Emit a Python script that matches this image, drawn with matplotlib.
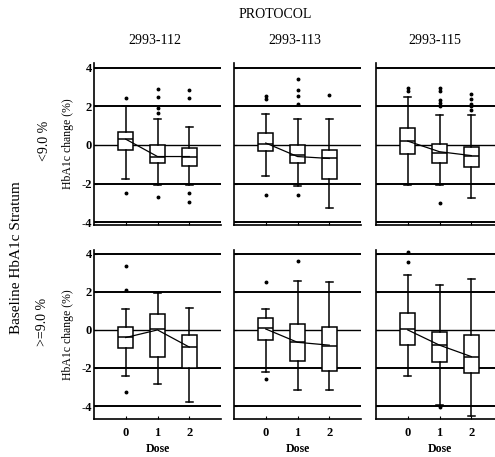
import matplotlib
matplotlib.use("Agg")
import matplotlib.pyplot as plt

protocols = ["2993-112", "2993-113", "2993-115"]
strata = ["<9.0 %", ">=9.0 %"]
doses = [0, 1, 2]

# per panel (row, col): per dose values
# whisker low, q1, median, q3, whisker high
whislo = [
    [[-1.76, -2.07, -2.07], [-1.6, -2.13, -3.28], [-2.07, -2.05, -2.76]],
    [[-2.42, -2.82, -3.79], [-2.19, -3.13, -3.13], [-2.4, -3.93, -4.52]],
]
q1 = [
    [[-0.26, -0.95, -1.07], [-0.3, -0.93, -1.76], [-0.45, -0.95, -1.12]],
    [[-0.93, -1.42, -1.98], [-0.54, -1.65, -2.17], [-0.78, -1.7, -2.26]],
]
med = [
    [[0.3, -0.6, -0.6], [0.07, -0.53, -0.7], [0.22, -0.4, -0.55]],
    [[-0.37, 0.03, -0.9], [0.09, -0.66, -0.83], [0.03, -0.8, -1.41]],
]
q3 = [
    [[0.69, 0.0, -0.14], [0.6, 0.0, -0.27], [0.86, 0.04, -0.1]],
    [[0.16, 0.86, -0.28], [0.61, 0.3, 0.16], [0.87, -0.09, -0.28]],
]
whishi = [
    [[2.03, 1.33, 0.95], [1.59, 1.33, 1.33], [2.5, 1.55, 1.55]],
    [[1.09, 1.95, 1.16], [1.11, 2.56, 2.5], [2.9, 2.38, 2.7]],
]
means = [
    [[0.3, -0.6, -0.6], [0.1, -0.6, -0.7], [0.2, -0.35, -0.55]],
    [[-0.4, 0.0, -0.9], [0.05, -0.65, -0.8], [0.0, -0.8, -1.4]],
]
outliers = [
    [
        [[2.45, -2.47], [2.88, 2.5, 1.9, 1.64, -2.68], [2.85, 2.45, -2.5, -2.95]],
        [[2.55, 2.4, -2.6], [3.42, 2.85, 2.55, 2.1, -2.6], [2.58]],
        [[2.93, 2.8], [2.95, 2.8, 2.35, 2.2, 2.0, -3.0], [2.65, 2.4, 2.1, 2.0, 1.8]],
    ],
    [
        [[3.35, 2.09, -3.26], [], []],
        [[2.5, -2.57], [3.63], []],
        [[4.07, 3.57], [-4.05], []],
    ],
]
ref_lines = [4, 2, 0, -2, -4]
yticks = [4, 2, 0, -2, -4]

serif = "Liberation Serif"
fig = plt.figure(figsize=(4.95, 4.57), dpi=100)
W, H = 495.0, 457.0

col_x = [(94, 221), (234, 361), (376, 503)]
row_y = [(63, 225), (250, 419)]
ylims = [(-4.15, 4.25), (-4.68, 4.2)]

for r in range(2):
    for c in range(3):
        x0, x1 = col_x[c]
        y0, y1 = row_y[r]
        ax = fig.add_axes([x0 / W, 1 - y1 / H, (x1 - x0) / W, (y1 - y0) / H])
        for v in ref_lines:
            ax.axhline(v, color="black", lw=1.0 if v == 0 else 1.4, zorder=1)
        stats = []
        for d in range(3):
            stats.append(dict(whislo=whislo[r][c][d], q1=q1[r][c][d], med=med[r][c][d],
                              q3=q3[r][c][d], whishi=whishi[r][c][d],
                              fliers=outliers[r][c][d]))
        ax.bxp(stats, positions=doses, widths=0.48, patch_artist=True,
               boxprops=dict(facecolor="white", edgecolor="black", lw=1.1),
               medianprops=dict(color="black", lw=1.1),
               whiskerprops=dict(color="black", lw=1.1),
               capprops=dict(color="black", lw=1.1),
               capwidths=0.22,
               flierprops=dict(marker="o", markersize=1.8, markerfacecolor="black",
                               markeredgecolor="black"),
               zorder=3)
        ax.plot(doses, means[r][c], color="black", lw=0.9, zorder=4)
        ax.set_xlim(-1, 3)
        ax.set_ylim(*ylims[r])
        ax.spines["top"].set_visible(False)
        ax.spines["right"].set_visible(False)
        ax.spines["left"].set_linewidth(1.2)
        ax.spines["bottom"].set_linewidth(1.2)
        ax.set_xticks(doses)
        ax.set_yticks(yticks)
        ax.tick_params(axis="both", direction="in", length=2, width=0.8, pad=1.5)
        if r == 1:
            ax.set_xticklabels([str(d) for d in doses], fontfamily=serif,
                               fontweight="bold", fontsize=9)
            ax.tick_params(axis="x", pad=6)
            ax.set_xlabel("Dose", fontfamily=serif, fontweight="bold", fontsize=8.5, labelpad=3)
        else:
            ax.set_xticklabels([])
        if c == 0:
            ax.set_yticklabels([str(t) for t in yticks], fontfamily=serif,
                               fontweight="bold", fontsize=9)
            ax.set_ylabel("HbA1c change (%)", fontfamily=serif, fontsize=8.5, labelpad=5)
        else:
            ax.set_yticklabels([])

fig.text(275 / W, 1 - 15 / H, "PROTOCOL", ha="center", va="center", fontfamily=serif, fontsize=10)
for c, (name, xc) in enumerate(zip(protocols, [155, 295, 435])):
    fig.text(xc / W, 1 - 40 / H, name, ha="center", va="center", fontfamily=serif, fontsize=10)
fig.text(45 / W, 1 - 141 / H, strata[0], ha="center", va="center", rotation=90,
         fontfamily=serif, fontsize=10)
fig.text(43 / W, 1 - 322 / H, strata[1], ha="center", va="center", rotation=90,
         fontfamily=serif, fontsize=10)
fig.text(17 / W, 1 - 258 / H, "Baseline HbA1c Stratum", ha="center", va="center", rotation=90,
         fontfamily=serif, fontsize=11)

fig.savefig("out.png", dpi=100, facecolor="white")
